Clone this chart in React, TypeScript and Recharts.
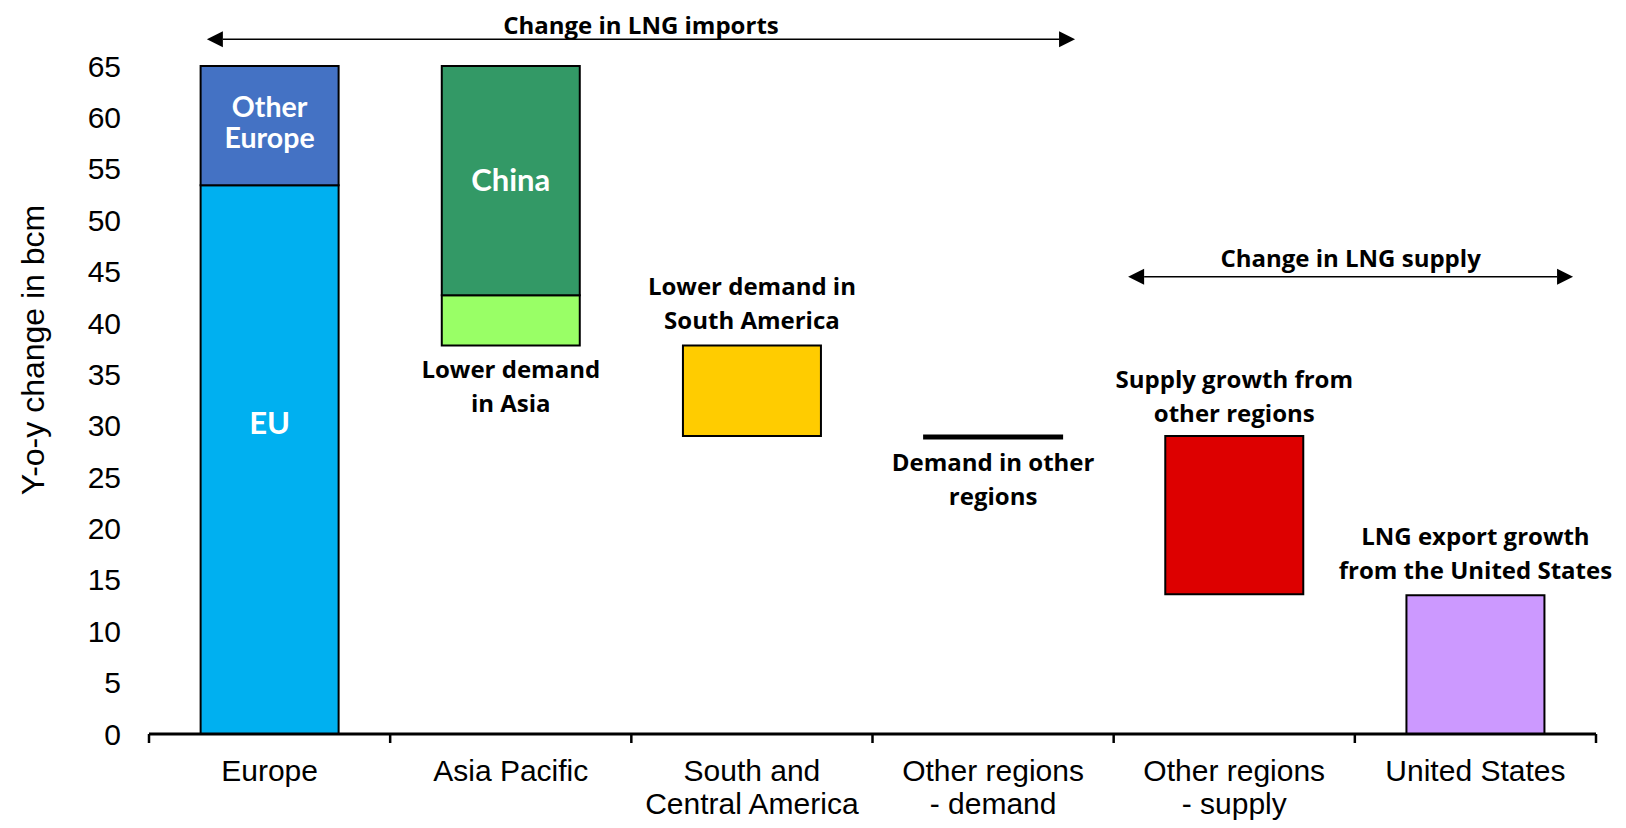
import React from 'react';
import { BarChart, Bar, XAxis, YAxis, Cell, LabelList, ReferenceLine } from 'recharts';

const categories = [
  'Europe',
  'Asia Pacific',
  'South and Central America',
  'Other regions - demand',
  'Other regions - supply',
  'United States',
];
const categoryLines = [
  ['Europe'],
  ['Asia Pacific'],
  ['South and', 'Central America'],
  ['Other regions', '- demand'],
  ['Other regions', '- supply'],
  ['United States'],
];
const baseValues = [0, 37.8, 29.0, 28.75, 13.6, 0];
const lowerValues = [53.4, 4.9, 8.8, 0.3, 15.4, 13.5];
const upperValues = [11.6, 22.3, 0, 0, 0, 0];
const lowerColors = ['#00B0F0', '#99FF66', '#FFCC00', '#000000', '#DD0000', '#CC99FF'];
const upperColors = ['#4472C4', '#339966', '#000000', '#000000', '#000000', '#000000'];
const lowerInside = [['EU'], [], [], [], [], []];
const upperInside = [['Other', 'Europe'], ['China'], [], [], [], []];
const notes = [
  [],
  ['Lower demand', 'in Asia'],
  ['Lower demand in', 'South America'],
  ['Demand in other', 'regions'],
  ['Supply growth from', 'other regions'],
  ['LNG export growth', 'from the United States'],
];
const notePlacement = ['', 'below', 'above', 'below', 'above', 'above'];
const yTicks = [0, 5, 10, 15, 20, 25, 30, 35, 40, 45, 50, 55, 60, 65];
const boundaryTicks = [0, 1, 2, 3, 4, 5, 6];
const importsTitle = 'Change in LNG imports';
const importsSpan = [0.24, 3.84];
const importsLevel = 67.6;
const supplyTitle = 'Change in LNG supply';
const supplySpan = [4.06, 5.905];
const supplyLevel = 44.5;

const data = categories.map((c, i) => ({
  name: c,
  slot: i,
  base: baseValues[i],
  lower: lowerValues[i],
  upper: upperValues[i],
}));

const LABEL_FONT = 'Lato, "Open Sans", sans-serif';
const NOTE_FONT = '"Open Sans", Lato, sans-serif';
const AXIS_FONT = '"Liberation Sans", Arial, sans-serif';

const getBox = (props: any) => {
  const vb = props.viewBox || {};
  return {
    x: Number(props.x ?? vb.x),
    y: Number(props.y ?? vb.y),
    width: Number(props.width ?? vb.width),
    height: Number(props.height ?? vb.height),
  };
};

const CategoryTick = (props: any) => {
  const { x, y, payload } = props;
  const idx = categories.indexOf(payload.value);
  const lines = idx >= 0 ? categoryLines[idx] : [String(payload.value)];
  return (
    <text x={x} y={y} textAnchor="middle" fontSize={30} fontFamily={AXIS_FONT} fill="#000">
      {lines.map((l, i) => (
        <tspan key={i} x={x} dy={i === 0 ? '0.71em' : 33}>
          {l}
        </tspan>
      ))}
    </text>
  );
};

const NoTick = () => <g />;

const renderLowerInside = (props: any) => {
  const idx = props.index;
  const lines = lowerInside[idx] || [];
  if (!lines.length) return null;
  const b = getBox(props);
  return (
    <text
      x={b.x + b.width / 2}
      y={b.y + b.height * 0.433}
      dy="0.35em"
      textAnchor="middle"
      fontSize={31}
      fontWeight={700}
      fontFamily={LABEL_FONT}
      fill="#fff"
    >
      {lines[0]}
    </text>
  );
};

const renderUpperInside = (props: any) => {
  const idx = props.index;
  const lines = upperInside[idx] || [];
  if (!lines.length) return null;
  const b = getBox(props);
  const cx = b.x + b.width / 2;
  const fontSize = lines.length > 1 ? 28.5 : 31;
  const gap = 31;
  const cy = b.y + b.height / 2 - (lines.length > 1 ? 3 : 0);
  const start = cy - ((lines.length - 1) * gap) / 2;
  return (
    <text textAnchor="middle" fontSize={fontSize} fontWeight={700} fontFamily={LABEL_FONT} fill="#fff">
      {lines.map((l, i) => (
        <tspan key={i} x={cx} y={start + i * gap} dy="0.35em">
          {l}
        </tspan>
      ))}
    </text>
  );
};

const renderNote = (props: any) => {
  const idx = props.index;
  const lines = notes[idx] || [];
  if (!lines.length) return null;
  const b = getBox(props);
  const cx = b.x + b.width / 2;
  const gap = 34;
  let first: number;
  if (notePlacement[idx] === 'below') {
    first = b.y + b.height + 24;
  } else {
    first = b.y - (idx === 4 ? 22 : 25) - (lines.length - 1) * gap;
  }
  return (
    <text textAnchor="middle" fontSize={24} fontWeight={700} fontFamily={NOTE_FONT} fill="#000">
      {lines.map((l, i) => (
        <tspan key={i} x={cx} y={first + i * gap} dy="0.35em">
          {l}
        </tspan>
      ))}
    </text>
  );
};

const ArrowShape = (props: any) => {
  const { x1, y1, x2, y2 } = props;
  const h = 16;
  const w = 8;
  const left = Math.min(x1, x2);
  const right = Math.max(x1, x2);
  return (
    <g>
      <line x1={left + h} y1={y1} x2={right - h} y2={y2} stroke="#000" strokeWidth={1.6} />
      <polygon points={`${left},${y1} ${left + h},${y1 - w} ${left + h},${y1 + w}`} fill="#000" />
      <polygon points={`${right},${y2} ${right - h},${y2 - w} ${right - h},${y2 + w}`} fill="#000" />
    </g>
  );
};

const YLabel = (props: any) => {
  const vb = props.viewBox || {};
  const cx = vb.x + 25;
  const cy = vb.y + vb.height / 2 - 50;
  return (
    <text
      x={cx}
      y={cy}
      transform={`rotate(-90, ${cx}, ${cy})`}
      textAnchor="middle"
      dominantBaseline="central"
      fontSize={32}
      fontFamily={AXIS_FONT}
      fill="#000"
    >
      Y-o-y change in bcm
    </text>
  );
};

export default function App() {
  return (
    <div style={{ width: 1610, height: 812, background: '#fff' }}>
      <BarChart
        width={1610}
        height={812}
        data={data}
        margin={{ top: 58, right: 22, bottom: 0, left: 0 }}
        barCategoryGap="21.4%"
      >
        <XAxis
          xAxisId="b"
          dataKey="name"
          type="category"
          axisLine={false}
          tickLine={false}
          tickSize={0}
          tickMargin={16}
          interval={0}
          tick={<CategoryTick />}
          height={76}
        />
        <XAxis
          xAxisId="a"
          dataKey="slot"
          type="number"
          domain={[0, 6]}
          ticks={boundaryTicks}
          allowDataOverflow
          interval={0}
          tick={<NoTick />}
          tickSize={9}
          tickLine={{ stroke: '#000', strokeWidth: 2.5 }}
          axisLine={{ stroke: '#000', strokeWidth: 3 }}
          height={10}
        />
        <YAxis
          type="number"
          domain={[0, 65]}
          ticks={yTicks}
          interval={0}
          axisLine={false}
          tickLine={false}
          tickSize={0}
          tickMargin={28}
          width={141}
          tick={{ fontSize: 30, fontFamily: AXIS_FONT, fill: '#000' }}
          label={{ content: <YLabel /> } as any}
        />
        <Bar dataKey="base" stackId="s" xAxisId="b" fill="#fff" fillOpacity={0} isAnimationActive={false} />
        <Bar dataKey="lower" stackId="s" xAxisId="b" stroke="#000" strokeWidth={2} isAnimationActive={false}>
          {data.map((_, i) => (
            <Cell key={i} fill={lowerColors[i]} />
          ))}
          <LabelList dataKey="lower" content={renderLowerInside} />
          <LabelList dataKey="lower" content={renderNote} />
        </Bar>
        <Bar dataKey="upper" stackId="s" xAxisId="b" stroke="#000" strokeWidth={2} isAnimationActive={false}>
          {data.map((_, i) => (
            <Cell key={i} fill={upperColors[i]} />
          ))}
          <LabelList dataKey="upper" content={renderUpperInside} />
        </Bar>
        <ReferenceLine
          xAxisId="a"
          ifOverflow="visible"
          segment={[
            { x: importsSpan[0], y: importsLevel },
            { x: importsSpan[1], y: importsLevel },
          ]}
          shape={<ArrowShape />}
          label={{
            value: importsTitle,
            position: 'top',
            offset: 5,
            fontSize: 24,
            fontWeight: 700,
            fontFamily: NOTE_FONT,
            fill: '#000',
          }}
        />
        <ReferenceLine
          xAxisId="a"
          ifOverflow="visible"
          segment={[
            { x: supplySpan[0], y: supplyLevel },
            { x: supplySpan[1], y: supplyLevel },
          ]}
          shape={<ArrowShape />}
          label={{
            value: supplyTitle,
            position: 'top',
            offset: 10,
            fontSize: 24,
            fontWeight: 700,
            fontFamily: NOTE_FONT,
            fill: '#000',
          }}
        />
      </BarChart>
    </div>
  );
}
